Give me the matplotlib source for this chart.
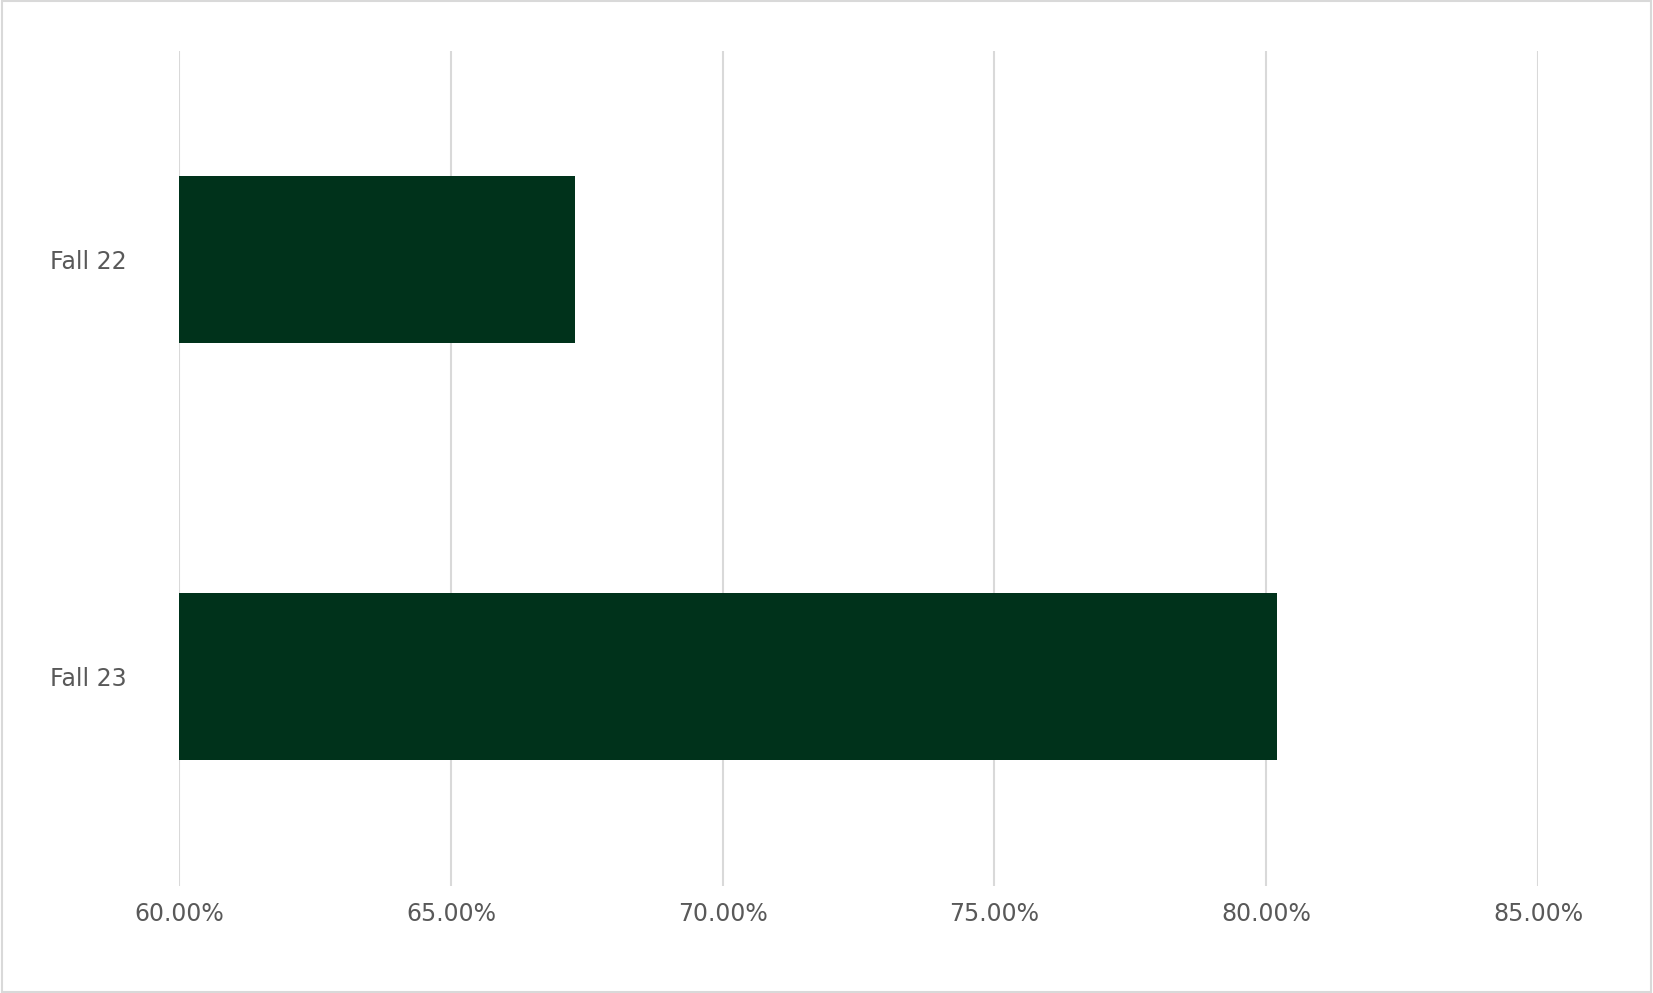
import matplotlib
matplotlib.use("Agg")
import matplotlib.pyplot as plt
from matplotlib.ticker import FuncFormatter
from matplotlib.patches import Rectangle

categories = ["Fall 23", "Fall 22"]
values = [80.19, 67.29]
xticks = [60, 65, 70, 75, 80, 85]

fig = plt.figure(figsize=(16.53, 9.93), dpi=100)
ax = fig.add_axes([0.1084, 0.108, 0.822, 0.841])
ax.barh(range(len(categories)), [v - 60 for v in values], left=60, height=0.4, color="#00321B", zorder=3)
ax.set_xlim(60, 85)
ax.set_ylim(-0.5, 1.5)
ax.set_xticks(xticks)
ax.xaxis.set_major_formatter(FuncFormatter(lambda v, p: f"{v:.2f}%"))
ax.set_yticks(range(len(categories)))
ax.set_yticklabels(categories)
ax.grid(axis="x", color="#D9D9D9", linewidth=1.5, zorder=0)
for s in ax.spines.values():
    s.set_visible(False)
ax.tick_params(length=0, labelsize=17, colors="#595959", pad=12)
ax.tick_params(axis="y", pad=38)
fig.patches.append(Rectangle((0.001, 0.001), 0.998, 0.998, transform=fig.transFigure,
                             fill=False, edgecolor="#D9D9D9", linewidth=1.5))
fig.savefig("out.png")
